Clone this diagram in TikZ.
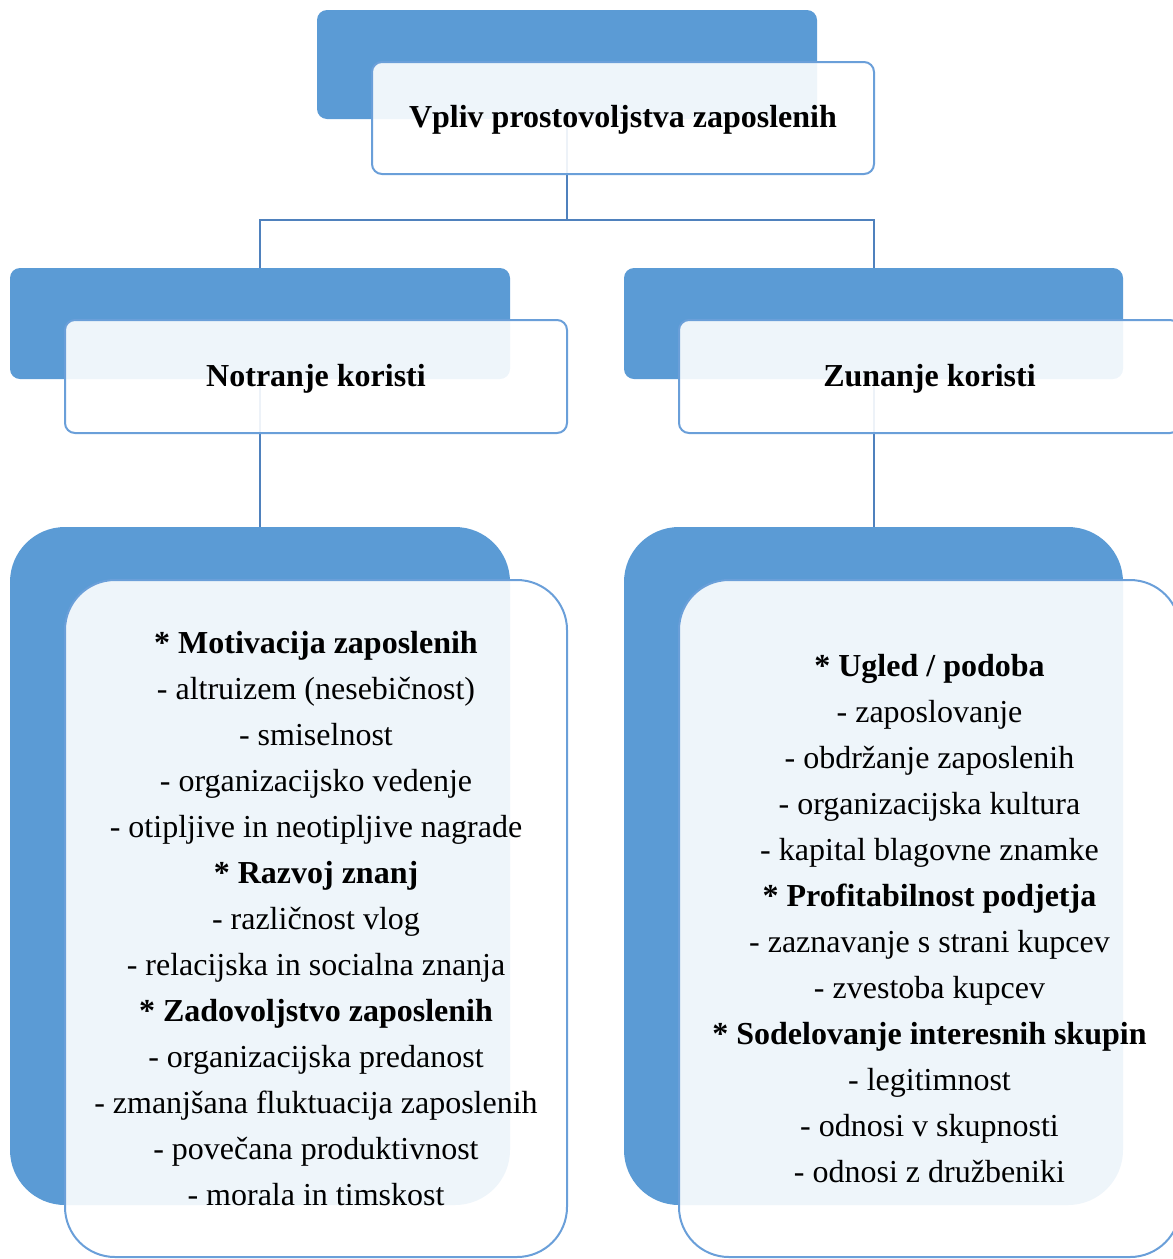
\documentclass[tikz,border=0pt]{standalone}
\usepackage{fontspec}
\setmainfont{Liberation Serif}
\definecolor{boxblue}{HTML}{5B9BD5}
\definecolor{edgeblue}{HTML}{6A9FD9}
\definecolor{linkblue}{HTML}{4F81BD}
\begin{document}
\begin{tikzpicture}[x=1pt,y=-1pt,
  bluebox/.style={fill=boxblue, draw=none, inner sep=0pt, outer sep=0pt, rounded corners=10pt},
  whitebox/.style={draw=edgeblue, line width=2pt, fill=white, fill opacity=0.9, text opacity=1, draw opacity=1,
    inner sep=0pt, outer sep=0pt, rounded corners=10pt, align=center,
    font=\fontsize{32}{46}\selectfont},
  headtext/.style={text height=26pt, text depth=7pt},
  conn/.style={draw=linkblue, line width=2pt}]
\useasboundingbox (0,0) rectangle (1173,1259);
\clip (0,0) rectangle (1173,1259);
% blue back boxes
\node[bluebox, minimum width=500pt, minimum height=109pt] (b0) at (567,64.5) {};
\node[bluebox, minimum width=500pt, minimum height=111pt] (b1) at (260,323.5) {};
\node[bluebox, minimum width=499pt, minimum height=111pt] (b2) at (873.5,323.5) {};
\node[bluebox, rounded corners=55pt, minimum width=500pt, minimum height=678pt] (c1) at (260,866) {};
\node[bluebox, rounded corners=55pt, minimum width=499pt, minimum height=678pt] (c2) at (873.5,866) {};
% connectors
\coordinate (j0) at (567,220);
\draw[conn] (b0.south) -- (j0) -| (b1.north);
\draw[conn] (j0) -| (b2.north);
\draw[conn] (b1.south) -- (c1.north);
\draw[conn] (b2.south) -- (c2.north);
% white front boxes
\node[whitebox, headtext, minimum width=502pt, minimum height=112pt] (w0) at (623,118) {\textbf{Vpliv prostovoljstva zaposlenih}};
\node[whitebox, headtext, minimum width=502pt, minimum height=113pt] (w1) at (316,376.5) {\textbf{Notranje koristi}};
\node[whitebox, headtext, minimum width=501pt, minimum height=113pt] (w2) at (929.5,376.5) {\textbf{Zunanje koristi}};
\node[whitebox, rounded corners=50pt, minimum width=502pt, minimum height=677pt] (d1) at (316,918.5) {%
\textbf{* Motivacija zaposlenih}\\
- altruizem (nesebičnost)\\
- smiselnost\\
- organizacijsko vedenje\\
- otipljive in neotipljive nagrade\\
\textbf{* Razvoj znanj}\\
- različnost vlog\\
- relacijska in socialna znanja\\
\textbf{* Zadovoljstvo zaposlenih}\\
- organizacijska predanost\\
- zmanjšana fluktuacija zaposlenih\\
- povečana produktivnost\\
- morala in timskost};
\node[whitebox, rounded corners=50pt, minimum width=501pt, minimum height=677pt] (d2) at (929.5,918.5) {%
\textbf{* Ugled / podoba}\\
- zaposlovanje\\
- obdržanje zaposlenih\\
- organizacijska kultura\\
- kapital blagovne znamke\\
\textbf{* Profitabilnost podjetja}\\
- zaznavanje s strani kupcev\\
- zvestoba kupcev\\
\textbf{* Sodelovanje interesnih skupin}\\
- legitimnost\\
- odnosi v skupnosti\\
- odnosi z družbeniki};
\end{tikzpicture}
\end{document}
